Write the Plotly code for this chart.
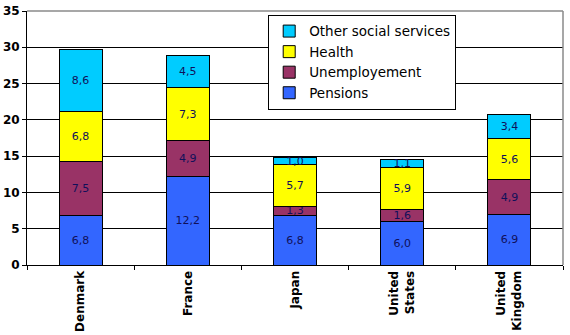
import plotly.graph_objects as go

countries = ["Denmark", "France", "Japan", "United<br>States", "United<br>Kingdom"]
pensions = [6.8, 12.2, 6.8, 6.0, 6.9]
unemployment = [7.5, 4.9, 1.3, 1.6, 4.9]
health = [6.8, 7.3, 5.7, 5.9, 5.6]
other = [8.6, 4.5, 1.0, 1.1, 3.4]

series = [
    ("Pensions", pensions, "#3366FF"),
    ("Unemployement", unemployment, "#993366"),
    ("Health", health, "#FFFF00"),
    ("Other social services", other, "#00CCFF"),
]

def fmt(v):
    return f"{v:.1f}".replace(".", ",")

fig = go.Figure()
for name, vals, color in series:
    fig.add_trace(go.Bar(
        x=countries, y=vals, name=name,
        marker=dict(color=color, line=dict(color="black", width=1)),
        text=[fmt(v) for v in vals],
        textposition="inside",
        insidetextanchor="middle",
        textangle=0,
        textfont=dict(color="#10105a", size=11, family="DejaVu Sans"),
        hoverinfo="skip",
    ))

fig.update_layout(
    barmode="stack",
    bargap=0.6,
    width=570, height=335,
    margin=dict(l=27, r=7, t=11, b=70),
    paper_bgcolor="white",
    plot_bgcolor="white",
    uniformtext=dict(minsize=11, mode="show"),
    font=dict(family="DejaVu Sans", color="black"),
    showlegend=True,
    legend=dict(
        x=0.45, y=0.985, xanchor="left", yanchor="top",
        traceorder="reversed",
        bgcolor="white", bordercolor="black", borderwidth=1,
        font=dict(size=13.5, family="DejaVu Sans"),
        tracegroupgap=0,
    ),
    yaxis=dict(
        range=[0, 35], dtick=5,
        showgrid=True, gridcolor="black", gridwidth=1,
        showline=True, linecolor="black", linewidth=1,
        ticks="outside", ticklen=4, tickcolor="black",
        tickfont=dict(size=12, family="DejaVu Sans", weight="bold"),
        zeroline=False,
        automargin=False,
    ),
    xaxis=dict(
        showline=True, linecolor="black", linewidth=1,
        ticks="outside", ticklen=4, tickcolor="black",
        tickson="boundaries",
        tickangle=-90,
        tickfont=dict(size=12, family="DejaVu Sans", weight="bold"),
        automargin=False,
    ),
    shapes=[
        dict(type="line", xref="paper", yref="paper", x0=0, x1=1, y0=1, y1=1,
             line=dict(color="#8a8a8a", width=1.5)),
        dict(type="line", xref="paper", yref="paper", x0=1, x1=1, y0=0, y1=1,
             line=dict(color="#8a8a8a", width=1.5)),
    ],
)

fig.write_html("out.html")
